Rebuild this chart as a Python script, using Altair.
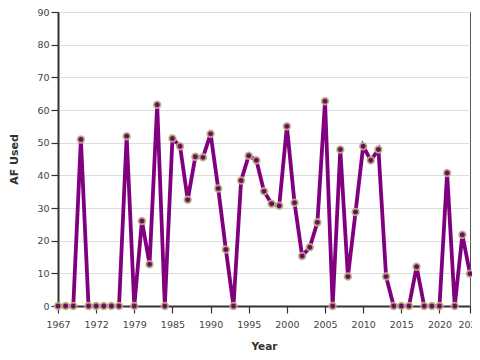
import altair as alt
import pandas as pd

years = [1967, 1968, 1969, 1970, 1971, 1972, 1973, 1974, 1977, 1978, 1979,
         1980, 1982, 1983, 1984, 1985] + list(range(1986, 2025))
af_used = [0, 0, 0, 51, 0, 0, 0, 0, 0, 52, 0,
           26, 12.8, 61.6, 0, 51.3,
           48.9, 32.5, 45.7, 45.5, 52.7, 36.0, 17.3, 0, 38.4, 46.0,
           44.6, 35.1, 31.3, 30.7, 55.0, 31.6, 15.3, 18.0, 25.6, 62.7,
           0, 47.9, 9.0, 28.8, 48.9, 44.6, 47.9, 9.0, 0, 0,
           0, 12.0, 0, 0, 0, 40.7, 0, 21.8, 9.9]
tick_years = [1967, 1972, 1979, 1985, 1990, 1995, 2000, 2005, 2010, 2015, 2020, 2024]

df = pd.DataFrame({"Year": years, "AF Used": af_used})

x = alt.X("Year:O", title="Year",
          scale=alt.Scale(type="point", padding=0),
          axis=alt.Axis(values=tick_years, labelAngle=0, labelFont="DejaVu Sans",
                        labelFontSize=9.5, labelColor="#444", tickColor="#333",
                        domainColor="#333", domainWidth=2, tickSize=7, tickWidth=1.2,
                        titleFont="DejaVu Sans", titleFontSize=10.5, titleFontWeight="bold",
                        titleColor="#333", titlePadding=13, grid=False, labelPadding=6,
                        labelOverlap=False))
y = alt.Y("AF Used:Q", title="AF Used",
          scale=alt.Scale(domain=[0, 90], nice=False),
          axis=alt.Axis(values=list(range(0, 91, 10)), labelFont="DejaVu Sans",
                        labelFontSize=9.5, labelColor="#444", tickColor="#333",
                        domainColor="#333", domainWidth=2, tickSize=7, tickWidth=1.2,
                        labelPadding=2,
                        gridColor="#dddddd", titleFont="DejaVu Sans", titleFontSize=11,
                        titleFontWeight="bold", titleColor="#333", titlePadding=17))

line = alt.Chart(df).mark_line(color="#800080", strokeWidth=3.8).encode(x=x, y=y)
pts = alt.Chart(df).mark_point(filled=True, fill="#650f65", stroke="#c2b280",
                               strokeWidth=1.8, size=45, opacity=1,
                               fillOpacity=1, strokeOpacity=0.9).encode(x=x, y=y)

chart = (line + pts).properties(
    width=412, height=294,
    autosize=alt.AutoSizeParams(type="none"),
    padding={"left": 50, "top": 4, "right": 2, "bottom": 56},
).configure_view(stroke="#555", strokeWidth=1)

chart.save("out.html", embed_options={"renderer": "svg", "actions": False})
